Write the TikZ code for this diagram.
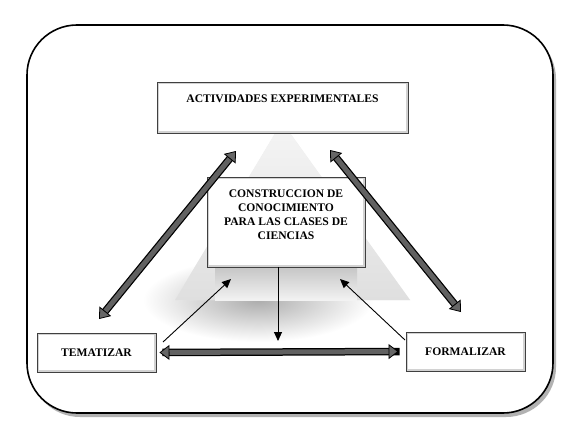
\documentclass[tikz,border=0pt]{standalone}
\usepackage{fontspec}
\setmainfont{Liberation Serif}
\usetikzlibrary{arrows.meta,shadows}

\tikzset{
  caja/.style={draw=black!75,line width=0.9pt,fill=white,inner sep=0pt,
    font=\bfseries\fontsize{11.6}{14}\selectfont,align=center,
    path picture={\draw[gray!35,line width=4pt] (path picture bounding box.south west) rectangle (path picture bounding box.north east);}},
  punta/.tip={Triangle[length=10pt,width=15pt,fill=black!60,color=black,line width=0.8pt]},
  gruesa/.style={line width=5pt,draw=black!62,{punta}-{punta},
    preaction={draw=black,line width=7.5pt,shorten <=6pt,shorten >=6pt,-}},
  fina/.style={line width=0.9pt,-{Triangle[length=9pt,width=8pt]}}
}

\begin{document}
\begin{tikzpicture}[x=1pt,y=-1pt]
\useasboundingbox (0,0) rectangle (564,439);
\fill[white] (0,0) rectangle (564,439);

% marco
\draw[line width=1.6pt,rounded corners=50pt,fill=white,
  drop shadow={shadow xshift=3pt,shadow yshift=-4pt,fill=gray!60,opacity=1}]
  (27,25) rectangle (553,413);

% piramide y sombra
\shade[inner color=gray!65,outer color=white] (258,300) ellipse (115 and 42);
\fill[gray!14] (282,122) -- (410,300) -- (175,300) -- cycle;
\shade[top color=gray!8,bottom color=gray!25] (282,122) -- (410,300) -- (175,300) -- cycle;
\shade[top color=gray!45,bottom color=gray!10] (215,267) rectangle (357,300);

% cajas
\node [caja,minimum width=251,text height=20pt,text depth=31pt] (act) at (282.5,107.5){ACTIVIDADES EXPERIMENTALES};
\node [caja,minimum width=158,minimum height=90] (con) at (286,222)
  {CONSTRUCCION DE\\CONOCIMIENTO\\PARA LAS CLASES DE\\CIENCIAS\rule[-15pt]{0pt}{1pt}};
\node [caja,minimum width=119,minimum height=39] (tem) at (96.5,352.5){TEMATIZAR};
\node [caja,minimum width=119,minimum height=39] (for) at (465.5,351.5){FORMALIZAR};

% extremos
\coordinate (a1) at (236,151);
\coordinate (a2) at (99,319);
\coordinate (b1) at (330,150);
\coordinate (b2) at (461,312);
\coordinate (c1) at (163,342);
\coordinate (c2) at (231,279);
\coordinate (d1) at (405,340);
\coordinate (d2) at (340,279);
\coordinate (e1) at (278,267);
\coordinate (e2) at (278,341);

\draw[gruesa] (a1) -- (a2);
\draw[gruesa] (b1) -- (b2);
\draw[gruesa,shorten <=3pt,shorten >=7pt] (tem.east) -- (for.west);
\draw[fina] (c1) -- (c2);
\draw[fina] (d1) -- (d2);
\draw[fina] (e1) -- (e2);
\end{tikzpicture}
\end{document}
